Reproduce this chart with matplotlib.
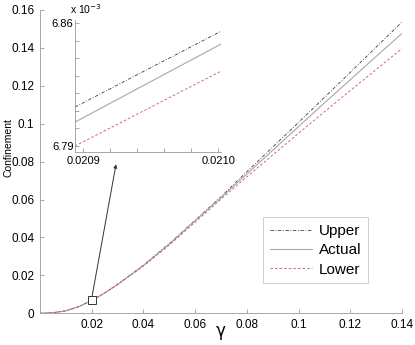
import matplotlib
matplotlib.use("Agg")
import matplotlib.pyplot as plt
from matplotlib.ticker import MultipleLocator

plt.rcParams['font.family'] = ['Liberation Sans', 'DejaVu Sans']

# ---- main curves ----
gamma = [0.0, 0.005, 0.01, 0.015, 0.02, 0.025, 0.03, 0.04, 0.05, 0.06, 0.07, 0.08, 0.09, 0.10, 0.11, 0.12, 0.13, 0.14]
actual = [0.0, 0.0003, 0.0013, 0.0035, 0.0068, 0.0107, 0.0152, 0.0252, 0.0365, 0.0488, 0.0610, 0.0735, 0.0860, 0.0985, 0.1110, 0.1232, 0.1355, 0.1477]
upper = [0.0, 0.0003, 0.0013, 0.0035, 0.0068, 0.0107, 0.0153, 0.0254, 0.0368, 0.0491, 0.0615, 0.0747, 0.0877, 0.1007, 0.1139, 0.1271, 0.1404, 0.1537]
lower = [0.0, 0.0003, 0.0013, 0.0035, 0.0068, 0.0107, 0.0151, 0.0249, 0.0360, 0.0481, 0.0602, 0.0720, 0.0835, 0.0950, 0.1063, 0.1175, 0.1286, 0.1397]

# ---- zoomed inset (values in units of 1e-3) ----
gamma_zoom = [0.020894, 0.021002]
actual_zoom = [6.8036, 6.8480]
upper_zoom = [6.8122, 6.8553]
lower_zoom = [6.7900, 6.8326]

xticks = [0.02, 0.04, 0.06, 0.08, 0.10, 0.12, 0.14]
xticklabels = ["0.02", "0.04", "0.06", "0.08", "0.1", "0.12", "0.14"]
yticks = [0, 0.02, 0.04, 0.06, 0.08, 0.10, 0.12, 0.14, 0.16]
yticklabels = ["0", "0.02", "0.04", "0.06", "0.08", "0.1", "0.12", "0.14", "0.16"]
zoom_xticks = [0.0209, 0.0210]
zoom_xticklabels = ["0.0209", "0.0210"]
zoom_yticks = [6.79, 6.86]
zoom_yticklabels = ["6.79", "6.86"]

marker_point = (0.02, 0.0068)
arrow_start = (0.0201, 0.0087)
arrow_end = (0.0294, 0.0786)

c_upper = '#3a3a3a'
c_actual = '#a8a8a8'
c_lower = '#cc4a6a'
spine_c = '#9a9a9a'

fig = plt.figure(figsize=(4.15, 3.45), dpi=100)
ax = fig.add_axes([40/415, 31.7/345, 362/415, 303.3/345])

ax.plot(gamma, upper, linestyle='-.', color=c_upper, lw=0.6, label='Upper', dashes=(4, 2, 1, 2))
ax.plot(gamma, actual, linestyle='-', color=c_actual, lw=0.8, label='Actual')
ax.plot(gamma, lower, linestyle='--', color=c_lower, lw=0.6, label='Lower', dashes=(3, 2.5))

ax.plot([marker_point[0]], [marker_point[1]], marker='s', ms=6, mfc='white', mec='#333333', mew=0.7, zorder=5)
ax.annotate('', xy=arrow_end, xytext=arrow_start,
            arrowprops=dict(arrowstyle='-|>', color='#333333', lw=0.7, mutation_scale=5, shrinkA=0, shrinkB=0))

ax.set_xlim(0, 0.14)
ax.set_ylim(0, 0.16)
ax.set_xticks(xticks)
ax.set_xticklabels(xticklabels)
ax.set_yticks(yticks)
ax.set_yticklabels(yticklabels)
for s in ['top', 'right']:
    ax.spines[s].set_visible(False)
for s in ['left', 'bottom']:
    ax.spines[s].set_color(spine_c)
    ax.spines[s].set_linewidth(0.6)
ax.tick_params(direction='in', length=3, width=0.6, color=spine_c, labelsize=8.5, pad=4)
ax.set_xlabel('γ', fontsize=12, family=['DejaVu Sans'])
ax.xaxis.set_label_coords(0.5, -0.028)
ax.set_ylabel('Confinement', fontsize=7.5)
ax.yaxis.label.set_va('center')
ax.yaxis.set_label_coords(-0.088, 0.545)

leg = ax.legend(loc='upper right', bbox_to_anchor=(0.906, 0.3175), borderaxespad=0,
                fontsize=11, handlelength=2.8, labelspacing=0.35, frameon=True, fancybox=False,
                borderpad=0.45, handletextpad=0.4)
leg.get_frame().set_edgecolor('#bbbbbb')
leg.get_frame().set_linewidth(0.6)

# ---- inset ----
ins = fig.add_axes([75/415, (345-152)/345, 146/415, 132/345])
ins.plot(gamma_zoom, upper_zoom, linestyle='-.', color=c_upper, lw=0.6, dashes=(4, 2, 1, 2))
ins.plot(gamma_zoom, actual_zoom, linestyle='-', color=c_actual, lw=0.8)
ins.plot(gamma_zoom, lower_zoom, linestyle='--', color=c_lower, lw=0.6, dashes=(3, 2.5))
ins.set_xlim(gamma_zoom[0], gamma_zoom[1])
ins.set_ylim(6.7866, 6.8617)
ins.set_xticks(zoom_xticks)
ins.set_xticklabels(zoom_xticklabels)
ins.set_yticks(zoom_yticks)
ins.set_yticklabels(zoom_yticklabels)
ins.xaxis.set_minor_locator(MultipleLocator(0.00002))
ins.yaxis.set_minor_locator(MultipleLocator(0.01))
for s in ['top', 'right']:
    ins.spines[s].set_visible(False)
for s in ['left', 'bottom']:
    ins.spines[s].set_color(spine_c)
    ins.spines[s].set_linewidth(0.6)
ins.tick_params(which='both', direction='in', length=3, width=0.6, color=spine_c, labelsize=8, pad=3)
ins.tick_params(axis='y', pad=1)
fig.text(70/415, 1 - 9/345, 'x 10$^{-3}$', fontsize=7.5, ha='left', va='center')

fig.savefig('out.png', dpi=100)
